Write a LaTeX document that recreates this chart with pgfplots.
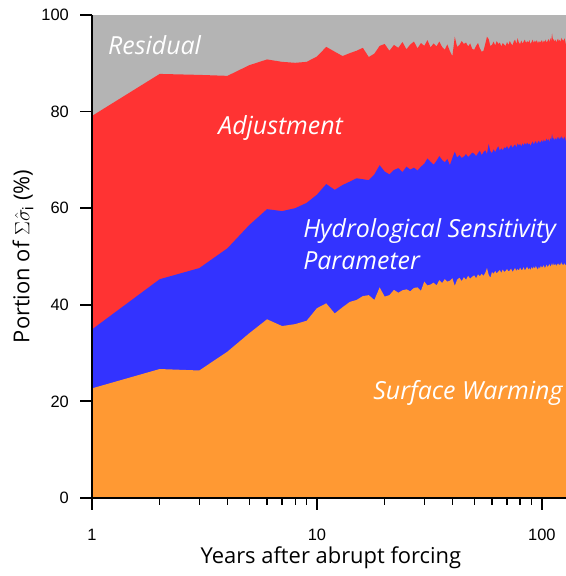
\documentclass[border=0pt]{standalone}
\usepackage{fontspec}
\setmainfont{Liberation Sans}
\newfontfamily\lab{Open Sans}
\usepackage{pgfplots}
\usepackage{pgfplotstable}
\pgfplotsset{compat=1.18}
\definecolor{cgray}{RGB}{180,180,180}
\definecolor{cred}{RGB}{255,51,51}
\definecolor{cblue}{RGB}{51,51,255}
\definecolor{corange}{RGB}{255,153,51}

\pgfplotstableread{
x sw hsp adj
1 22.7 34.9 79.1
2 26.7 45.3 87.8
3 26.4 47.6 87.6
4 30.3 51.7 87.4
5 34.1 56.5 89.6
6 37.0 59.8 90.8
7 35.6 59.4 90.3
8 36.0 60.0 90.1
9 36.7 61.1 90.3
10 39.3 62.8 91.4
11 40.3 65.0 93.4
12 38.2 63.8 92.4
13 39.5 64.8 91.5
14 40.6 65.5 92.1
15 41.0 66.2 92.6
16 41.8 66.0 93.2
17 42.0 65.8 91.3
18 41.0 67.0 92.0
19 43.6 68.9 93.6
20 41.7 67.6 94.0
21 42.0 67.0 92.6
22 43.1 67.9 93.8
23 42.5 68.3 93.2
24 43.0 67.5 94.4
25 43.2 68.6 92.9
26 42.8 68.0 93.9
27 43.5 68.4 94.5
28 43.6 67.8 93.1
29 42.9 68.6 94.2
30 44.8 69.2 93.6
31 44.0 70.3 94.8
32 44.2 69.6 93.3
33 44.6 69.0 94.1
34 44.0 69.8 93.5
35 45.1 70.8 94.5
36 44.5 70.0 93.4
37 45.3 69.5 92.8
38 44.8 70.2 93.9
39 45.0 68.9 92.5
40 45.5 70.4 91.5
41 43.9 71.7 95.5
42 45.2 70.5 93.4
43 45.6 71.0 93.8
44 44.9 70.4 94.6
45 45.7 70.7 94.0
46 45.2 71.2 94.3
47 46.0 70.6 93.5
48 45.4 71.0 94.1
49 45.8 71.5 93.0
50 46.1 71.3 92.8
51 45.5 70.8 93.6
52 46.3 71.4 94.2
53 45.9 71.9 93.1
54 46.4 71.0 92.4
55 46.0 71.6 92.6
56 46.6 72.0 94.0
57 47.6 71.2 95.5
58 46.2 73.3 95.0
59 45.6 71.8 93.6
60 46.8 71.4 93.8
61 46.4 72.2 94.5
62 47.0 71.6 93.7
63 46.5 72.3 94.6
64 46.9 72.8 94.0
65 47.2 71.9 94.3
66 46.6 72.4 93.5
67 47.3 72.0 94.2
68 46.8 72.6 93.9
69 47.0 72.4 93.6
70 47.4 72.9 94.4
71 46.9 72.2 93.8
72 47.1 72.7 94.6
73 47.5 73.1 94.1
74 46.8 72.5 93.7
75 47.2 72.9 94.5
76 47.6 73.2 94.9
77 47.0 72.6 94.0
78 47.4 73.4 95.2
79 47.1 73.0 94.3
80 47.7 73.3 94.0
81 47.2 72.8 94.7
82 47.3 73.4 94.1
83 47.8 73.0 94.5
84 47.1 73.5 94.9
85 47.5 73.1 94.2
86 47.9 73.6 94.6
87 47.3 73.2 94.3
88 47.6 73.4 94.8
89 47.2 72.9 94.0
90 47.8 73.4 94.4
91 47.4 73.8 94.9
92 47.9 73.2 94.2
93 47.5 73.6 94.7
94 48.0 73.9 94.4
95 47.6 73.3 94.8
96 47.3 73.7 94.1
97 47.9 74.0 94.6
98 47.5 73.5 94.3
99 48.1 73.8 94.5
100 47.7 74.1 94.8
101 47.9 73.6 94.2
102 48.2 74.2 94.7
103 47.6 73.8 94.4
104 47.9 74.0 94.9
105 48.3 74.4 94.3
106 47.8 73.9 94.6
107 48.1 74.3 95.0
108 48.4 73.7 94.4
109 47.9 74.5 95.2
110 48.2 74.1 94.6
111 48.6 75.4 96.2
112 48.0 74.2 94.8
113 48.6 74.6 95.0
114 48.1 74.0 94.5
115 48.4 74.5 94.9
116 48.0 74.1 94.3
117 48.5 74.7 94.8
118 48.2 74.3 95.1
119 48.6 74.8 94.5
120 48.1 74.2 94.9
121 48.4 74.6 94.4
122 48.8 74.9 95.3
123 48.2 74.3 94.7
124 48.5 74.7 95.0
125 48.1 74.2 94.5
126 48.6 74.8 95.2
127 48.3 74.4 94.6
128 48.2 73.8 93.8
}\data

\begin{document}
\begin{tikzpicture}
\useasboundingbox (-92bp,-78bp) rectangle (474bp,498bp);
\begin{axis}[
  at={(0,0)}, anchor=south west,
  scale only axis, width=474bp, height=483bp,
  xmode=log, xmin=1, xmax=128, ymin=0, ymax=100,
  axis line style={draw=none},
  axis background/.style={fill=cgray},
  xtick pos=left, ytick pos=left,
  xtick={1,10,100}, xticklabels={1,10,100},
  minor xtick={},
  ytick={0,20,40,60,80,100}, yticklabels={0,20,40,60,80,100},
  major tick length=0pt, minor tick length=0pt,
  tick label style={font=\fontsize{16.5}{16.5}\selectfont},
  xticklabel style={anchor=center, inner sep=0pt, yshift=-37bp},
  yticklabel style={anchor=east, inner sep=0pt, xshift=-23bp},
  xlabel={\lab Years after abrupt forcing},
  ylabel={\lab Portion of $\Sigma\hat{\sigma}_{\mathrm{i}}$ (\%)},
  xlabel style={at={(axis description cs:0.504,-0.124)}, anchor=center, font=\fontsize{22}{24}\selectfont},
  ylabel style={at={(axis description cs:-0.1456,0.5)}, anchor=center, font=\fontsize{22}{24}\selectfont},
]
\addplot[draw=none, fill=cred] table[x=x, y=adj]{\data} \closedcycle;
\addplot[draw=none, fill=cblue] table[x=x, y=hsp]{\data} \closedcycle;
\addplot[draw=none, fill=corange] table[x=x, y=sw]{\data} \closedcycle;
\node[text=white, font=\lab\itshape\fontsize{25}{26}\selectfont, anchor=west, inner sep=0pt] at (axis cs:1.178,93.8) {Residual};
\node[text=white, font=\lab\itshape\fontsize{25}{26}\selectfont, anchor=west, inner sep=0pt] at (axis cs:3.636,76.6) {Adjustment};
\node[text=white, font=\lab\itshape\fontsize{25}{32}\selectfont, anchor=west, align=left, inner sep=0pt] at (axis cs:8.68,52.6) {Hydrological Sensitivity\\Parameter};
\node[text=white, font=\lab\itshape\fontsize{25}{26}\selectfont, anchor=west, inner sep=0pt] at (axis cs:17.78,21.7) {Surface Warming};
\end{axis}
% axis lines and tick marks (axis box: 474bp x 483bp at origin; x = 224.94bp*log10(v))
\draw[line width=1.8bp, black] (0,483bp) -- (0,0) -- (474bp,0);
\foreach \xx in {0,224.94,449.88} {\draw[line width=1.8bp, black] (\xx bp,0) -- (\xx bp,-12bp);}
\foreach \xx in {67.71,107.32,135.43,157.23,175.03,190.09,203.14,214.65,292.65,332.26,360.37,382.17,399.97,415.03,428.08,439.59} {\draw[line width=1.2bp, black] (\xx bp,0) -- (\xx bp,-7bp);}
\foreach \yy in {0,96.6,193.2,289.8,386.4,483} {\draw[line width=1.8bp, black] (0,\yy bp) -- (-12bp,\yy bp);}
\end{tikzpicture}
\end{document}
